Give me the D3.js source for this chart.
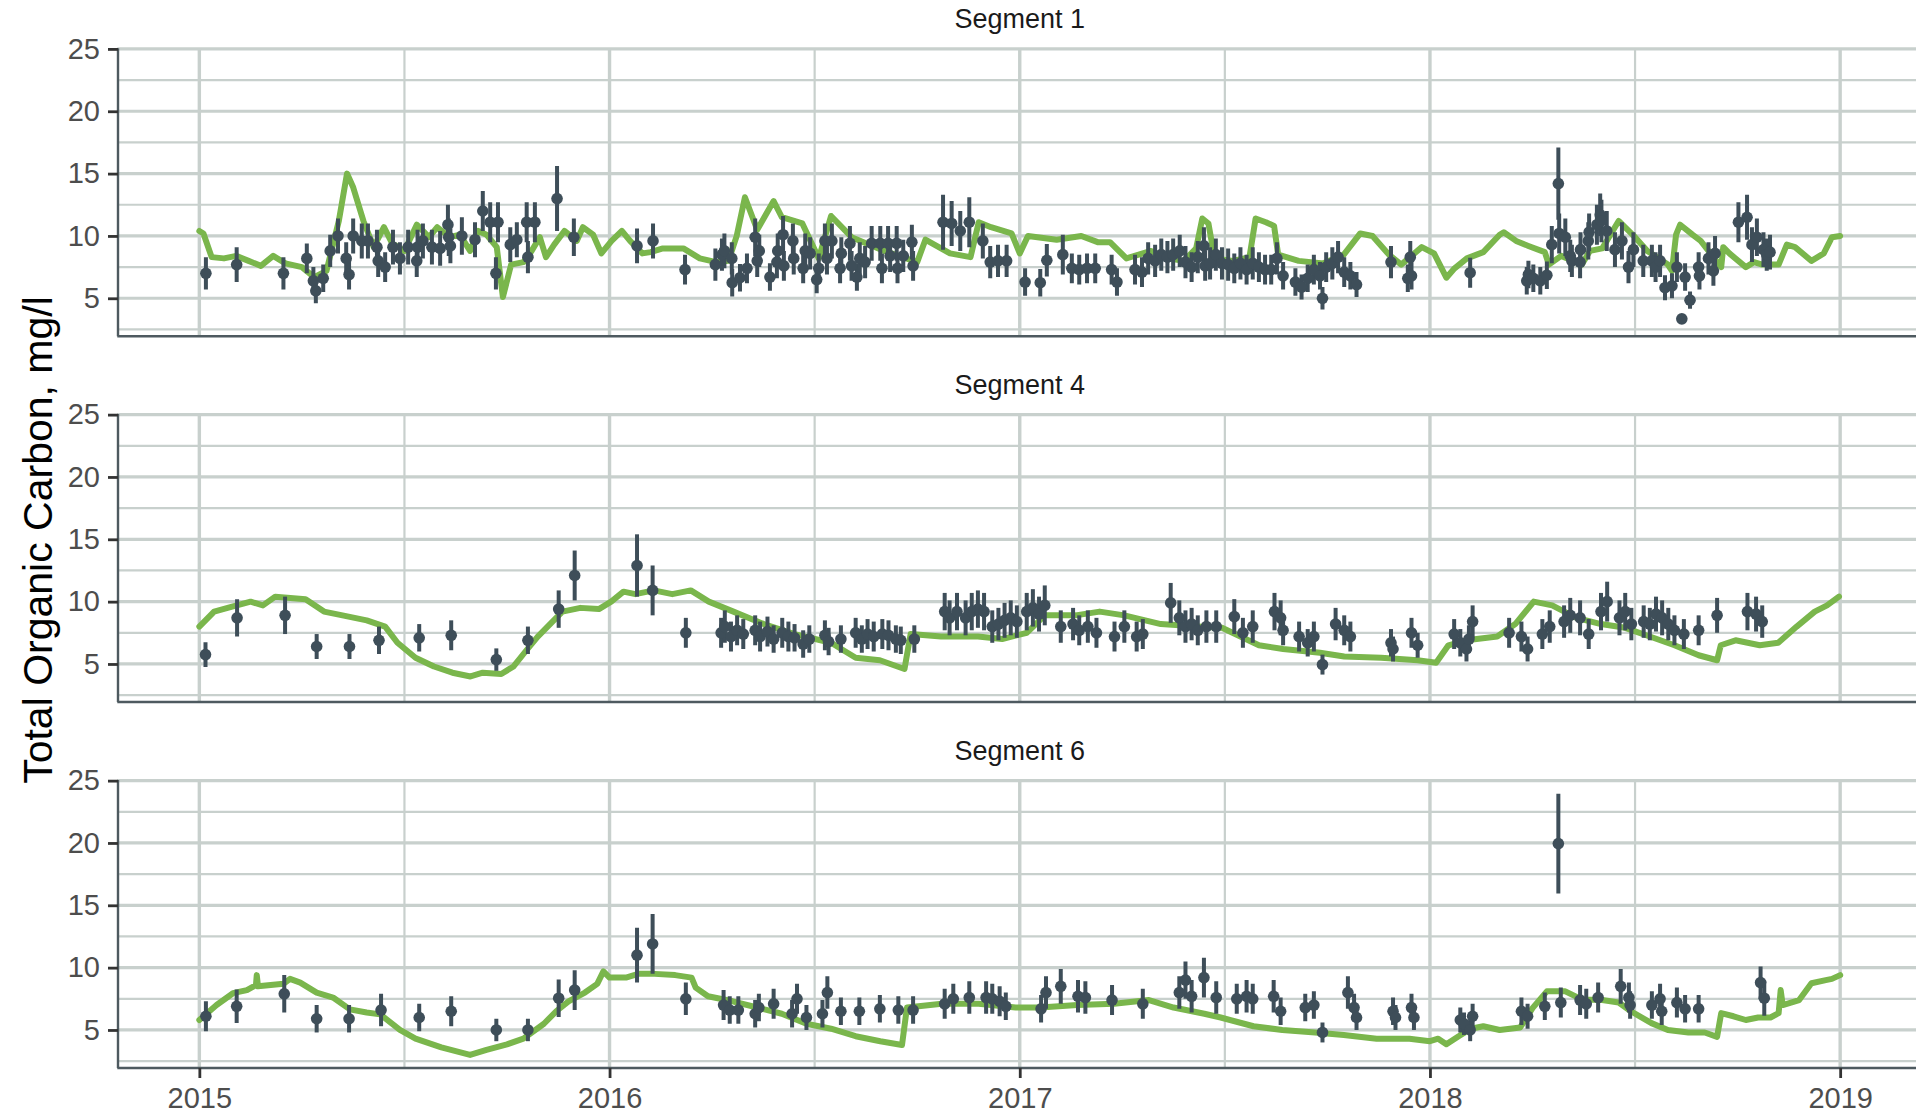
<!DOCTYPE html>
<html>
<head>
<meta charset="utf-8">
<script src="https://cdn.jsdelivr.net/npm/d3@7"></script>
<style>
  body { margin: 0; background: #fff; }
  svg text { font-family: "Liberation Sans", Arial, sans-serif; }
</style>
</head>
<body>
<div id="chart"></div>
<script>
// facet names, axis ticks
const segments = ["Segment 1", "Segment 4", "Segment 6"];
const yearTicks = [2015, 2016, 2017, 2018, 2019];
const yTicks = [5, 10, 15, 20, 25];
const yMinor = [2.5, 7.5, 12.5, 17.5, 22.5];
const xMinor = [2015.5, 2016.5, 2017.5, 2018.5];

// modelled TOC, [decimal year, mg/l]
const seg1Model = [[2015.0,10.4],[2015.01,10.2],[2015.03,8.3],[2015.06,8.2],[2015.09,8.4],[2015.12,8.0],[2015.15,7.6],[2015.18,8.4],[2015.21,7.8],[2015.25,7.5],[2015.28,6.7],[2015.31,7.2],[2015.34,11.2],[2015.36,15.0],[2015.375,13.9],[2015.40,11.2],[2015.425,9.1],[2015.45,10.7],[2015.47,9.4],[2015.50,8.8],[2015.53,10.9],[2015.56,9.9],[2015.58,10.7],[2015.61,9.9],[2015.635,10.1],[2015.66,8.8],[2015.68,10.4],[2015.70,10.1],[2015.725,9.1],[2015.74,5.1],[2015.76,7.7],[2015.79,7.9],[2015.81,8.8],[2015.83,9.9],[2015.845,8.3],[2015.865,9.3],[2015.89,10.4],[2015.92,9.6],[2015.935,10.7],[2015.96,10.1],[2015.98,8.6],[2016.005,9.6],[2016.03,10.4],[2016.05,9.6],[2016.08,8.6],[2016.10,8.7],[2016.13,9.0],[2016.18,9.0],[2016.22,8.2],[2016.26,7.9],[2016.29,8.0],[2016.31,10.0],[2016.33,13.1],[2016.36,10.5],[2016.40,12.8],[2016.42,11.5],[2016.47,11.0],[2016.51,8.2],[2016.54,11.6],[2016.59,9.9],[2016.67,8.8],[2016.75,7.9],[2016.77,9.7],[2016.83,8.6],[2016.88,8.3],[2016.90,11.1],[2016.93,10.7],[2016.98,10.2],[2017.0,8.6],[2017.02,10.0],[2017.09,9.7],[2017.15,10.0],[2017.19,9.5],[2017.22,9.5],[2017.26,8.2],[2017.32,8.8],[2017.36,8.2],[2017.40,8.0],[2017.43,9.0],[2017.445,11.4],[2017.46,11.0],[2017.475,8.2],[2017.52,8.0],[2017.56,8.3],[2017.575,11.4],[2017.60,11.1],[2017.62,10.8],[2017.63,8.5],[2017.68,8.0],[2017.74,7.8],[2017.79,8.5],[2017.83,10.2],[2017.86,10.0],[2017.90,8.5],[2017.93,7.7],[2017.98,9.1],[2018.01,8.6],[2018.04,6.65],[2018.06,7.4],[2018.09,8.2],[2018.13,8.7],[2018.17,10.1],[2018.18,10.3],[2018.21,9.6],[2018.24,9.2],[2018.28,8.7],[2018.29,7.7],[2018.32,8.4],[2018.37,7.7],[2018.39,8.8],[2018.42,9.0],[2018.46,11.2],[2018.50,9.9],[2018.53,8.8],[2018.58,7.7],[2018.59,7.2],[2018.60,10.1],[2018.61,10.9],[2018.64,10.1],[2018.66,9.6],[2018.71,7.5],[2018.715,9.1],[2018.73,8.6],[2018.77,7.5],[2018.79,7.9],[2018.81,7.7],[2018.85,7.7],[2018.87,9.3],[2018.89,9.1],[2018.93,8.0],[2018.96,8.6],[2018.98,9.9],[2019.0,10.0]];

const seg4Model = [[2015.0,8.0],[2015.036,9.2],[2015.08,9.6],[2015.125,10.0],[2015.155,9.7],[2015.185,10.4],[2015.259,10.2],[2015.304,9.2],[2015.349,8.9],[2015.408,8.5],[2015.453,8.0],[2015.483,6.7],[2015.527,5.5],[2015.572,4.8],[2015.617,4.3],[2015.661,4.0],[2015.691,4.3],[2015.736,4.2],[2015.766,4.8],[2015.795,6.0],[2015.825,7.2],[2015.855,8.2],[2015.885,9.2],[2015.929,9.5],[2015.974,9.4],[2016.004,10.0],[2016.034,10.8],[2016.063,10.6],[2016.108,10.9],[2016.153,10.6],[2016.198,10.9],[2016.242,10.0],[2016.302,9.2],[2016.376,8.2],[2016.451,7.4],[2016.54,6.7],[2016.6,5.5],[2016.659,5.3],[2016.719,4.6],[2016.734,7.4],[2016.808,7.2],[2016.898,7.2],[2016.957,7.0],[2017.017,7.5],[2017.061,8.9],[2017.136,8.9],[2017.195,9.2],[2017.255,8.9],[2017.344,8.2],[2017.434,8.0],[2017.493,7.9],[2017.538,7.2],[2017.583,6.5],[2017.642,6.2],[2017.732,5.9],[2017.791,5.6],[2017.881,5.5],[2017.97,5.3],[2018.015,5.1],[2018.045,6.5],[2018.089,6.9],[2018.164,7.2],[2018.208,8.2],[2018.253,10.0],[2018.298,9.7],[2018.357,8.7],[2018.417,8.2],[2018.476,7.9],[2018.536,7.2],[2018.596,6.5],[2018.655,5.7],[2018.7,5.3],[2018.709,6.5],[2018.745,6.9],[2018.804,6.5],[2018.849,6.7],[2018.894,8.0],[2018.938,9.2],[2018.968,9.7],[2018.997,10.4]];

const seg6Model = [[2015.0,5.8],[2015.042,7.0],[2015.082,7.95],[2015.116,8.2],[2015.138,8.6],[2015.14,9.4],[2015.143,8.5],[2015.205,8.7],[2015.221,9.1],[2015.246,8.8],[2015.286,8.0],[2015.326,7.6],[2015.367,6.65],[2015.408,6.4],[2015.441,6.25],[2015.489,5.0],[2015.527,4.3],[2015.59,3.6],[2015.66,3.0],[2015.70,3.4],[2015.75,3.85],[2015.79,4.3],[2015.84,5.5],[2015.87,6.5],[2015.90,7.3],[2015.94,8.0],[2015.97,8.7],[2015.985,9.7],[2016.0,9.2],[2016.04,9.2],[2016.07,9.5],[2016.11,9.5],[2016.16,9.4],[2016.20,9.2],[2016.21,8.4],[2016.24,7.7],[2016.30,7.3],[2016.36,6.8],[2016.42,6.3],[2016.48,5.5],[2016.54,5.1],[2016.60,4.5],[2016.66,4.1],[2016.713,3.8],[2016.725,6.8],[2016.81,7.1],[2016.90,7.1],[2016.99,6.8],[2017.05,6.8],[2017.14,7.0],[2017.23,7.1],[2017.315,7.4],[2017.345,7.1],[2017.375,6.8],[2017.45,6.3],[2017.49,6.0],[2017.57,5.3],[2017.64,5.0],[2017.72,4.8],[2017.79,4.6],[2017.87,4.3],[2017.95,4.3],[2018.0,4.1],[2018.02,4.3],[2018.04,3.85],[2018.07,4.5],[2018.10,5.1],[2018.13,5.3],[2018.17,5.0],[2018.22,5.2],[2018.25,6.75],[2018.285,8.1],[2018.33,8.1],[2018.37,7.45],[2018.42,7.4],[2018.46,7.2],[2018.49,6.5],[2018.54,5.55],[2018.58,5.0],[2018.63,4.8],[2018.67,4.8],[2018.70,4.45],[2018.71,6.35],[2018.74,6.1],[2018.77,5.8],[2018.80,6.0],[2018.83,6.0],[2018.85,6.35],[2018.855,8.2],[2018.86,7.0],[2018.90,7.4],[2018.93,8.75],[2018.965,9.0],[2018.98,9.1],[2019.0,9.4]];

// observed TOC, [decimal year, mg/l, half-width of bar]
const seg1Obs = [[2015.016,7.0,1.3],[2015.091,7.7,1.4],[2015.205,7.0,1.3],[2015.262,8.2,1.2],[2015.278,6.4,1.1],[2015.284,5.6,1.0],[2015.302,6.6,1.1],[2015.319,8.8,1.3],[2015.338,10.0,1.4],[2015.358,8.2,1.3],[2015.365,6.9,1.2],[2015.375,10.0,1.4],[2015.396,9.6,1.4],[2015.411,9.6,1.4],[2015.433,9.1,1.4],[2015.436,8.0,1.3],[2015.453,7.5,1.2],[2015.472,9.1,1.4],[2015.489,8.2,1.3],[2015.509,9.1,1.4],[2015.530,8.0,1.3],[2015.532,9.1,1.4],[2015.545,9.6,1.4],[2015.567,9.1,1.4],[2015.587,9.0,1.4],[2015.606,10.9,1.6],[2015.608,9.9,1.5],[2015.612,9.2,1.4],[2015.640,10.0,1.5],[2015.672,9.7,1.4],[2015.691,12.0,1.6],[2015.709,11.1,1.6],[2015.723,7.0,1.3],[2015.728,11.1,1.6],[2015.758,9.3,1.4],[2015.774,9.7,1.4],[2015.798,11.1,1.6],[2015.801,8.3,1.3],[2015.818,11.1,1.6],[2015.872,13.0,2.6],[2015.913,9.9,1.5],[2016.067,9.2,1.4],[2016.106,9.6,1.4],[2016.184,7.3,1.2],[2016.258,7.7,1.3],[2016.274,8.5,1.3],[2016.280,8.8,1.4],[2016.298,8.2,1.3],[2016.299,6.25,1.1],[2016.318,6.65,1.1],[2016.335,7.4,1.2],[2016.355,9.9,1.5],[2016.360,8.0,1.3],[2016.365,8.8,1.3],[2016.391,6.7,1.1],[2016.408,7.9,1.3],[2016.410,8.8,1.4],[2016.423,10.1,1.5],[2016.425,7.6,1.2],[2016.447,9.6,1.4],[2016.449,8.2,1.3],[2016.472,7.4,1.2],[2016.477,8.8,1.4],[2016.489,8.6,1.3],[2016.505,6.5,1.1],[2016.510,7.4,1.2],[2016.525,9.6,1.4],[2016.530,8.2,1.3],[2016.542,9.6,1.4],[2016.562,7.4,1.2],[2016.565,8.6,1.3],[2016.586,9.4,1.4],[2016.590,7.6,1.2],[2016.603,6.7,1.1],[2016.610,8.2,1.3],[2016.623,7.9,1.3],[2016.639,9.4,1.4],[2016.660,9.4,1.4],[2016.664,7.4,1.2],[2016.679,9.4,1.4],[2016.684,8.4,1.3],[2016.700,9.4,1.4],[2016.702,7.4,1.2],[2016.716,8.4,1.3],[2016.737,9.5,1.4],[2016.740,7.6,1.2],[2016.813,11.1,2.2],[2016.834,11.0,1.8],[2016.855,10.4,1.6],[2016.877,11.1,2.0],[2016.910,9.6,1.4],[2016.928,7.9,1.3],[2016.947,8.0,1.3],[2016.968,8.0,1.3],[2017.013,6.3,1.1],[2017.050,6.25,1.1],[2017.066,8.05,1.3],[2017.105,8.5,1.6],[2017.127,7.4,1.2],[2017.145,7.3,1.2],[2017.164,7.4,1.2],[2017.184,7.4,1.2],[2017.224,7.3,1.2],[2017.237,6.3,1.1],[2017.281,7.3,1.2],[2017.298,7.1,1.2],[2017.313,8.2,1.3],[2017.330,8.0,1.3],[2017.345,8.5,1.3],[2017.360,8.3,1.3],[2017.374,8.5,1.3],[2017.390,8.8,1.3],[2017.404,7.9,1.3],[2017.419,7.5,1.2],[2017.434,8.3,1.3],[2017.449,9.2,1.5],[2017.452,7.6,1.2],[2017.464,7.8,1.3],[2017.478,8.5,1.3],[2017.493,7.8,1.3],[2017.508,7.7,1.3],[2017.523,7.4,1.2],[2017.538,7.8,1.3],[2017.553,7.3,1.2],[2017.568,7.8,1.3],[2017.583,7.5,1.2],[2017.598,7.3,1.2],[2017.613,7.3,1.2],[2017.627,8.2,1.3],[2017.642,6.8,1.1],[2017.672,6.3,1.1],[2017.687,5.9,1.0],[2017.702,6.6,1.1],[2017.717,7.3,1.2],[2017.732,6.8,1.1],[2017.738,5.0,0.9],[2017.747,7.5,1.2],[2017.762,7.8,1.3],[2017.776,8.3,1.3],[2017.791,7.1,1.2],[2017.806,6.8,1.1],[2017.821,6.1,1.0],[2017.905,7.9,1.3],[2017.946,6.6,1.1],[2017.952,8.3,1.3],[2017.955,6.8,1.1],[2018.098,7.05,1.2],[2018.236,6.4,1.1],[2018.240,6.9,1.1],[2018.252,6.6,1.1],[2018.269,6.4,1.1],[2018.285,6.85,1.1],[2018.297,9.3,1.5],[2018.313,14.2,2.9],[2018.315,10.2,1.6],[2018.330,9.9,1.5],[2018.342,8.4,1.3],[2018.346,8.0,1.3],[2018.366,7.9,1.3],[2018.367,8.9,1.4],[2018.386,9.6,1.5],[2018.388,10.3,1.5],[2018.407,10.9,1.6],[2018.415,11.7,1.7],[2018.418,11.2,1.7],[2018.431,10.4,1.6],[2018.451,8.9,1.4],[2018.468,9.6,1.5],[2018.484,7.5,1.3],[2018.496,8.9,1.4],[2018.520,8.0,1.3],[2018.541,8.0,1.3],[2018.550,7.5,1.2],[2018.561,8.0,1.3],[2018.573,5.85,1.0],[2018.590,6.0,1.0],[2018.602,7.5,1.2],[2018.614,3.35,0],[2018.622,6.7,1.1],[2018.634,4.85,0.7],[2018.655,7.5,1.2],[2018.657,6.8,1.1],[2018.679,8.2,1.3],[2018.691,7.2,1.2],[2018.695,8.6,1.4],[2018.752,11.1,1.6],[2018.773,11.5,1.8],[2018.785,9.3,1.4],[2018.797,9.9,1.5],[2018.813,8.9,1.4],[2018.821,8.5,1.3],[2018.829,8.7,1.4]];

const seg4Obs = [[2015.015,5.75,1.0],[2015.092,8.7,1.5],[2015.209,8.9,1.5],[2015.286,6.4,1.0],[2015.366,6.4,1.0],[2015.438,6.9,1.1],[2015.536,7.1,1.1],[2015.614,7.3,1.2],[2015.724,5.35,0.9],[2015.801,6.9,1.1],[2015.876,9.4,1.5],[2015.915,12.1,2.0],[2016.067,12.9,2.5],[2016.105,10.9,2.0],[2016.186,7.5,1.2],[2016.272,7.5,1.2],[2016.281,8.0,1.3],[2016.296,7.2,1.2],[2016.311,7.7,1.2],[2016.326,7.4,1.2],[2016.355,7.7,1.2],[2016.367,7.2,1.2],[2016.385,7.6,1.2],[2016.400,7.0,1.1],[2016.421,7.5,1.2],[2016.436,7.2,1.2],[2016.451,7.1,1.1],[2016.472,6.6,1.1],[2016.487,7.0,1.1],[2016.525,7.3,1.2],[2016.534,6.8,1.1],[2016.564,7.0,1.1],[2016.600,7.5,1.2],[2016.615,7.0,1.1],[2016.629,7.4,1.2],[2016.644,7.2,1.2],[2016.665,7.4,1.2],[2016.680,7.3,1.2],[2016.698,7.0,1.1],[2016.710,6.9,1.1],[2016.743,7.0,1.1],[2016.817,9.2,1.5],[2016.829,8.7,1.4],[2016.847,9.2,1.5],[2016.868,8.7,1.4],[2016.883,9.2,1.5],[2016.898,9.4,1.5],[2016.913,9.2,1.5],[2016.933,8.0,1.3],[2016.948,8.2,1.3],[2016.963,8.5,1.4],[2016.978,8.7,1.4],[2016.993,8.4,1.3],[2017.017,9.2,1.5],[2017.032,9.5,1.5],[2017.047,9.0,1.4],[2017.061,9.7,1.6],[2017.100,8.0,1.3],[2017.130,8.2,1.3],[2017.145,7.7,1.2],[2017.166,8.0,1.3],[2017.187,7.5,1.2],[2017.231,7.2,1.2],[2017.255,8.0,1.3],[2017.285,7.2,1.2],[2017.300,7.4,1.2],[2017.368,9.9,1.6],[2017.389,8.7,1.4],[2017.404,8.0,1.3],[2017.419,8.2,1.3],[2017.434,7.7,1.2],[2017.455,8.0,1.3],[2017.479,8.0,1.3],[2017.523,8.8,1.4],[2017.544,7.5,1.2],[2017.568,8.0,1.3],[2017.621,9.2,1.5],[2017.636,8.7,1.4],[2017.642,7.7,1.2],[2017.681,7.2,1.2],[2017.702,6.7,1.1],[2017.717,7.2,1.2],[2017.738,4.95,0.8],[2017.770,8.2,1.3],[2017.791,7.7,1.2],[2017.806,7.2,1.2],[2017.905,6.7,1.1],[2017.910,6.2,1.0],[2017.955,7.5,1.2],[2017.970,6.5,1.0],[2018.059,7.4,1.2],[2018.074,6.7,1.1],[2018.089,6.2,1.0],[2018.095,7.0,1.1],[2018.104,8.4,1.3],[2018.193,7.5,1.2],[2018.223,7.2,1.2],[2018.238,6.2,1.0],[2018.274,7.4,1.2],[2018.292,8.0,1.3],[2018.327,8.4,1.3],[2018.342,8.9,1.4],[2018.366,8.7,1.4],[2018.387,7.4,1.2],[2018.417,9.2,1.5],[2018.432,10.0,1.6],[2018.462,8.7,1.4],[2018.476,9.2,1.5],[2018.491,8.2,1.3],[2018.521,8.4,1.3],[2018.536,8.2,1.3],[2018.551,9.0,1.4],[2018.566,8.7,1.4],[2018.581,8.2,1.3],[2018.596,7.7,1.2],[2018.619,7.4,1.2],[2018.655,7.7,1.2],[2018.700,8.9,1.4],[2018.774,9.2,1.5],[2018.795,9.0,1.4],[2018.810,8.4,1.3]];

const seg6Obs = [[2015.016,6.1,1.2],[2015.091,6.9,1.35],[2015.207,7.9,1.5],[2015.286,5.9,1.1],[2015.365,5.9,1.1],[2015.443,6.6,1.3],[2015.536,6.0,1.1],[2015.614,6.5,1.2],[2015.724,5.0,0.9],[2015.801,5.0,0.9],[2015.876,7.55,1.5],[2015.915,8.2,1.6],[2016.067,11.0,2.2],[2016.105,11.9,2.4],[2016.186,7.5,1.3],[2016.278,7.0,1.2],[2016.293,6.6,1.1],[2016.314,6.6,1.1],[2016.355,6.3,1.1],[2016.364,6.8,1.1],[2016.400,7.1,1.2],[2016.445,6.3,1.1],[2016.457,7.5,1.2],[2016.480,6.0,1.0],[2016.519,6.3,1.1],[2016.531,8.0,1.3],[2016.564,6.5,1.1],[2016.609,6.5,1.1],[2016.659,6.7,1.1],[2016.704,6.6,1.1],[2016.740,6.6,1.1],[2016.817,7.1,1.2],[2016.838,7.5,1.2],[2016.877,7.6,1.3],[2016.918,7.6,1.3],[2016.933,7.5,1.2],[2016.951,7.3,1.2],[2016.966,6.9,1.1],[2017.052,6.7,1.1],[2017.064,8.0,1.3],[2017.100,8.5,1.4],[2017.142,7.7,1.3],[2017.160,7.6,1.3],[2017.225,7.4,1.2],[2017.300,7.1,1.2],[2017.389,8.0,1.3],[2017.404,9.0,1.5],[2017.419,7.7,1.3],[2017.449,9.2,1.6],[2017.479,7.6,1.3],[2017.529,7.5,1.2],[2017.553,7.7,1.3],[2017.568,7.5,1.2],[2017.619,7.7,1.3],[2017.636,6.5,1.1],[2017.696,6.8,1.1],[2017.717,7.0,1.1],[2017.738,4.8,0.8],[2017.800,8.0,1.3],[2017.815,6.8,1.1],[2017.821,6.0,1.0],[2017.910,6.5,1.1],[2017.916,6.0,1.0],[2017.955,6.8,1.1],[2017.961,6.0,1.0],[2018.074,5.8,1.0],[2018.083,5.5,0.9],[2018.098,5.0,0.9],[2018.104,6.1,1.0],[2018.223,6.5,1.1],[2018.238,6.1,1.0],[2018.280,6.9,1.1],[2018.313,19.95,4.0],[2018.319,7.2,1.2],[2018.366,7.4,1.2],[2018.381,7.1,1.2],[2018.410,7.6,1.2],[2018.465,8.5,1.4],[2018.485,7.6,1.2],[2018.488,7.0,1.1],[2018.541,7.0,1.1],[2018.561,7.5,1.2],[2018.565,6.5,1.1],[2018.602,7.2,1.2],[2018.622,6.7,1.1],[2018.655,6.7,1.1],[2018.806,8.8,1.3],[2018.815,7.55,1.4]];

const modelSeries = [seg1Model, seg4Model, seg6Model];
const obsSeries = [seg1Obs, seg4Obs, seg6Obs];

const W = 1916, H = 1114;
const panelLeft = 117.3, panelRight = 1922.2, panelH = 288;
const panelTops = [48.3, 414, 780];
const gridCol = "#c8d0cd", axisCol = "#4e5a60", green = "#7ab64c", dark = "#3e4e59";

const svg = d3.select("#chart").append("svg")
    .attr("width", W)
    .attr("height", H);

const x = d3.scaleLinear().domain([2014.8, 2019.2]).range([panelLeft, panelRight]);
const y = d3.scaleLinear().domain([1.95, 25.05]).range([panelH, 0]);

svg.append("defs").append("clipPath")
    .attr("id", "panelClip")
    .append("rect")
    .attr("x", panelLeft).attr("y", 0)
    .attr("width", panelRight - panelLeft).attr("height", panelH);

const line = d3.line()
    .x(d => x(d[0]))
    .y(d => y(d[1]));

segments.forEach(function(name, i) {
    const g = svg.append("g").attr("transform", "translate(0," + panelTops[i] + ")");

    // gridlines
    g.selectAll(".ymin").data(yMinor).enter().append("line")
        .attr("x1", panelLeft).attr("x2", W)
        .attr("y1", d => y(d)).attr("y2", d => y(d))
        .attr("stroke", gridCol).attr("stroke-width", 2.2);
    g.selectAll(".xmin").data(xMinor).enter().append("line")
        .attr("x1", d => x(d)).attr("x2", d => x(d))
        .attr("y1", 0).attr("y2", panelH)
        .attr("stroke", gridCol).attr("stroke-width", 2.2);
    g.selectAll(".ymaj").data(yTicks).enter().append("line")
        .attr("x1", panelLeft).attr("x2", W)
        .attr("y1", d => y(d)).attr("y2", d => y(d))
        .attr("stroke", gridCol).attr("stroke-width", 3.2);
    g.selectAll(".xmaj").data(yearTicks).enter().append("line")
        .attr("x1", d => x(d)).attr("x2", d => x(d))
        .attr("y1", 0).attr("y2", panelH)
        .attr("stroke", gridCol).attr("stroke-width", 3.4);

    const plot = g.append("g").attr("clip-path", "url(#panelClip)");

    plot.append("path")
        .datum(modelSeries[i])
        .attr("d", line)
        .attr("fill", "none")
        .attr("stroke", green)
        .attr("stroke-width", 6)
        .attr("stroke-linejoin", "round")
        .attr("stroke-linecap", "round");

    plot.selectAll(".bar").data(obsSeries[i]).enter().append("line")
        .attr("x1", d => x(d[0])).attr("x2", d => x(d[0]))
        .attr("y1", d => y(d[1] - d[2])).attr("y2", d => y(d[1] + d[2]))
        .attr("stroke", dark).attr("stroke-width", 4);

    plot.selectAll(".pt").data(obsSeries[i]).enter().append("circle")
        .attr("cx", d => x(d[0]))
        .attr("cy", d => y(d[1]))
        .attr("r", 5.8)
        .attr("fill", dark);

    // axis lines
    g.append("line")
        .attr("x1", panelLeft + 0.7).attr("x2", panelLeft + 0.7)
        .attr("y1", 0).attr("y2", panelH)
        .attr("stroke", axisCol).attr("stroke-width", 2.4);
    g.append("line")
        .attr("x1", panelLeft).attr("x2", W)
        .attr("y1", panelH).attr("y2", panelH)
        .attr("stroke", axisCol).attr("stroke-width", 2.4);

    const yAxis = g.append("g")
        .attr("transform", "translate(" + (panelLeft + 0.7) + ",0)")
        .call(d3.axisLeft(y).tickValues(yTicks).tickSize(10).tickSizeOuter(0).tickPadding(8));
    yAxis.select(".domain").remove();
    yAxis.selectAll(".tick line").attr("stroke", "#333").attr("stroke-width", 2.8);
    yAxis.selectAll(".tick text")
        .attr("fill", "#4d4d4d")
        .style("font-size", "29px");

    if (i === segments.length - 1) {
        const xAxis = g.append("g")
            .attr("transform", "translate(0," + panelH + ")")
            .call(d3.axisBottom(x).tickValues(yearTicks).tickFormat(d3.format("d")).tickSize(10).tickPadding(9));
        xAxis.select(".domain").remove();
        xAxis.selectAll(".tick line").attr("stroke", "#333").attr("stroke-width", 2.8);
        xAxis.selectAll(".tick text")
            .attr("fill", "#4d4d4d")
            .style("font-size", "29px");
    }

    // strip label
    svg.append("text")
        .attr("x", (panelLeft + panelRight) / 2)
        .attr("y", panelTops[i] - 20)
        .attr("text-anchor", "middle")
        .attr("fill", "#1a1a1a")
        .style("font-size", "27px")
        .text(name);
});

svg.append("text")
    .attr("transform", "translate(52,540) rotate(-90)")
    .attr("text-anchor", "middle")
    .attr("fill", "#000")
    .style("font-size", "41px")
    .text("Total Organic Carbon, mg/l");
</script>
</body>
</html>
